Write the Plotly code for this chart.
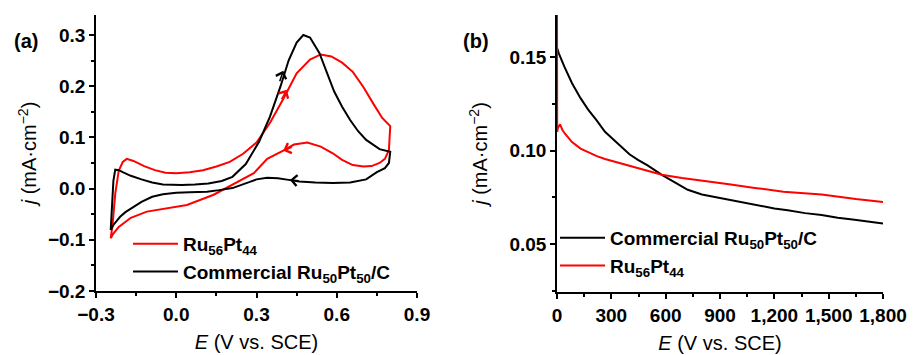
import plotly.graph_objects as go

# ---------------- Panel (a): cyclic voltammograms ----------------
# Ru56Pt44 (red): forward (anodic) scan then reverse scan
red_fwd_E = [-0.245, -0.238, -0.228, -0.215, -0.2, -0.185, -0.16, -0.12, -0.08, -0.04, 0.0, 0.05, 0.1,
             0.15, 0.2, 0.25, 0.3, 0.35, 0.4, 0.45, 0.5, 0.54, 0.58, 0.62, 0.66, 0.7, 0.74, 0.77, 0.8]
red_fwd_j = [-0.097, -0.07, -0.01, 0.035, 0.052, 0.058, 0.054, 0.044, 0.036, 0.031, 0.030, 0.032, 0.036,
             0.043, 0.052, 0.068, 0.09, 0.128, 0.175, 0.225, 0.252, 0.262, 0.258, 0.246, 0.228, 0.198, 0.163, 0.138, 0.122]
red_rev_E = [0.8, 0.795, 0.78, 0.76, 0.73, 0.7, 0.66, 0.62, 0.585, 0.54, 0.49, 0.44, 0.4, 0.34, 0.29,
             0.21, 0.14, 0.04, -0.035, -0.11, -0.17, -0.215, -0.238, -0.245]
red_rev_j = [0.122, 0.075, 0.058, 0.05, 0.044, 0.043, 0.046, 0.056, 0.069, 0.082, 0.09, 0.086, 0.074, 0.058, 0.03,
             0.007, -0.012, -0.032, -0.038, -0.045, -0.057, -0.075, -0.09, -0.097]

# Commercial Ru50Pt50/C (black)
blk_fwd_E = [-0.245, -0.24, -0.235, -0.228, -0.215, -0.2, -0.17, -0.13, -0.09, -0.05, -0.02, 0.02, 0.07,
             0.12, 0.17, 0.21, 0.26, 0.31, 0.35, 0.39, 0.42, 0.45, 0.475, 0.5, 0.535, 0.56, 0.59, 0.62,
             0.65, 0.68, 0.71, 0.76, 0.8]
blk_fwd_j = [-0.081, -0.04, 0.015, 0.037, 0.036, 0.032, 0.025, 0.018, 0.012, 0.008, 0.007, 0.007, 0.008,
             0.010, 0.015, 0.023, 0.048, 0.092, 0.14, 0.2, 0.25, 0.285, 0.3, 0.295, 0.265, 0.232, 0.19, 0.16,
             0.134, 0.112, 0.095, 0.077, 0.072]
blk_rev_E = [0.8, 0.795, 0.78, 0.75, 0.71, 0.65, 0.585, 0.52, 0.46, 0.42, 0.38, 0.34, 0.3, 0.275, 0.24,
             0.21, 0.16, 0.115, 0.05, 0.0, -0.05, -0.09, -0.13, -0.16, -0.19, -0.21, -0.235, -0.245]
blk_rev_j = [0.072, 0.05, 0.04, 0.032, 0.018, 0.012, 0.011, 0.012, 0.014, 0.017, 0.02, 0.021, 0.018, 0.013,
             0.006, 0.001, -0.003, -0.006, -0.007, -0.008, -0.011, -0.016, -0.026, -0.036, -0.046, -0.055,
             -0.071, -0.081]

# scan-direction arrows: head position, colour, tail offset (px)
arrow_E = [0.40, 0.413, 0.40, 0.425]
arrow_j = [0.23, 0.193, 0.074, 0.017]
arrow_color = ["black", "red", "red", "black"]
arrow_ax = [-4, -6, 10, 10]
arrow_ay = [12, 11, -4, 1]

# ---------------- Panel (b): chronoamperometry ----------------
blk_t = [0, 10, 40, 83, 130, 171, 220, 265, 310, 358, 400, 447, 500, 579, 650, 722, 800, 910, 1000,
         1092, 1200, 1274, 1370, 1461, 1550, 1643, 1720, 1800]
blk_jt = [0.155, 0.152, 0.145, 0.136, 0.128, 0.122, 0.116, 0.110, 0.106, 0.102, 0.098, 0.095, 0.092,
          0.087, 0.083, 0.079, 0.0765, 0.0745, 0.0725, 0.071, 0.069, 0.068, 0.0665, 0.0655, 0.064,
          0.063, 0.062, 0.061]
red_t = [0, 1, 5, 17, 30, 44, 83, 130, 171, 220, 265, 358, 447, 579, 690, 800, 950, 1092, 1250,
         1461, 1650, 1800]
red_jt = [0.18, 0.11, 0.112, 0.114, 0.111, 0.109, 0.1045, 0.101, 0.099, 0.097, 0.0955, 0.093, 0.0905,
          0.087, 0.0853, 0.084, 0.082, 0.080, 0.078, 0.0765, 0.074, 0.0725]

name_ru = "Ru<sub>56</sub>Pt<sub>44</sub>"
name_com = "Commercial Ru<sub>50</sub>Pt<sub>50</sub>/C"

FONT = "Liberation Sans"
fig = go.Figure()

fig.add_trace(go.Scatter(x=red_fwd_E + red_rev_E, y=red_fwd_j + red_rev_j, mode="lines",
                         line=dict(color="red", width=2), name=name_ru, legend="legend",
                         legendgroup="a1", xaxis="x", yaxis="y"))
fig.add_trace(go.Scatter(x=blk_fwd_E + blk_rev_E, y=blk_fwd_j + blk_rev_j, mode="lines",
                         line=dict(color="black", width=2), name=name_com, legend="legend",
                         legendgroup="a2", xaxis="x", yaxis="y"))
fig.add_trace(go.Scatter(x=blk_t, y=blk_jt, mode="lines", line=dict(color="black", width=2),
                         name=name_com, legend="legend2", legendgroup="b1", xaxis="x2", yaxis="y2"))
fig.add_trace(go.Scatter(x=red_t, y=red_jt, mode="lines", line=dict(color="red", width=2),
                         name=name_ru, legend="legend2", legendgroup="b2", xaxis="x2", yaxis="y2"))

for E, j, c, ax, ay in zip(arrow_E, arrow_j, arrow_color, arrow_ax, arrow_ay):
    fig.add_annotation(x=E, y=j, xref="x", yref="y", text="", showarrow=True, arrowhead=4,
                       arrowsize=1.4, arrowwidth=1.5, arrowcolor=c, ax=ax, ay=ay)

tickfont = dict(family=FONT, size=19, color="black", weight="bold")
titlefont = dict(family=FONT, size=20, color="black")
common = dict(showline=True, linecolor="black", linewidth=1.5, ticks="outside", ticklen=5,
              tickwidth=1.5, tickcolor="black", showgrid=False, zeroline=False, mirror=False,
              tickfont=tickfont, layer="below traces", automargin=False, tickangle=0)

W, H = 916, 355
fig.update_layout(
    width=W, height=H, margin=dict(l=0, r=0, t=0, b=0),
    paper_bgcolor="white", plot_bgcolor="white",
    xaxis=dict(domain=[96 / W, 417 / W], range=[-0.3, 0.9], tick0=-0.3, dtick=0.3, tickformat=".1f",
               minor=dict(ticks="outside", ticklen=3, tickwidth=1.5, tickcolor="black", dtick=0.15, tick0=-0.3),
               title=dict(text="<i>E</i> (V vs. SCE)", font=titlefont, standoff=11), anchor="y", **common),
    yaxis=dict(domain=[1 - 291 / H, 1 - 15 / H], range=[-0.2, 0.339], tick0=-0.2, dtick=0.1, tickformat=".1f",
               minor=dict(ticks="outside", ticklen=3, tickwidth=1.5, tickcolor="black", dtick=0.05, tick0=-0.2),
               title=dict(text="<i>j</i> (mA·cm<sup>−2</sup>)", font=titlefont, standoff=6), anchor="x", **common),
    xaxis2=dict(domain=[557 / W, 883 / W], range=[0, 1800], tick0=0, dtick=300, tickformat=",d",
                minor=dict(ticks="outside", ticklen=3, tickwidth=1.5, tickcolor="black", dtick=150, tick0=0),
                title=dict(text="<i>E</i> (V vs. SCE)", font=titlefont, standoff=11), anchor="y2", **common),
    yaxis2=dict(domain=[1 - 292 / H, 1 - 15 / H], range=[0.0243, 0.1725], tick0=0.05, dtick=0.05, tickformat=".2f",
                minor=dict(ticks="outside", ticklen=3, tickwidth=1.5, tickcolor="black", dtick=0.025, tick0=0.025),
                title=dict(text="<i>j</i> (mA·cm<sup>−2</sup>)", font=titlefont, standoff=16), anchor="x2", **common),
    legend=dict(x=128 / W, y=1 - 225 / H, xanchor="left", yanchor="top", bgcolor="rgba(0,0,0,0)",
                font=dict(family=FONT, size=19, color="black", weight="bold"), tracegroupgap=0,
                itemwidth=45),
    legend2=dict(x=555 / W, y=1 - 219 / H, xanchor="left", yanchor="top", bgcolor="rgba(0,0,0,0)",
                 font=dict(family=FONT, size=19, color="black", weight="bold"), tracegroupgap=0,
                 itemwidth=45),
    showlegend=True,
)

fig.add_annotation(x=26 / W, y=1 - 28 / H, xref="paper", yref="paper", text="<b>(a)</b>", showarrow=False,
                   xanchor="center", font=dict(family=FONT, size=20, color="black"))
fig.add_annotation(x=476 / W, y=1 - 28 / H, xref="paper", yref="paper", text="<b>(b)</b>", showarrow=False,
                   xanchor="center", font=dict(family=FONT, size=20, color="black"))

fig.write_html("out.html")
